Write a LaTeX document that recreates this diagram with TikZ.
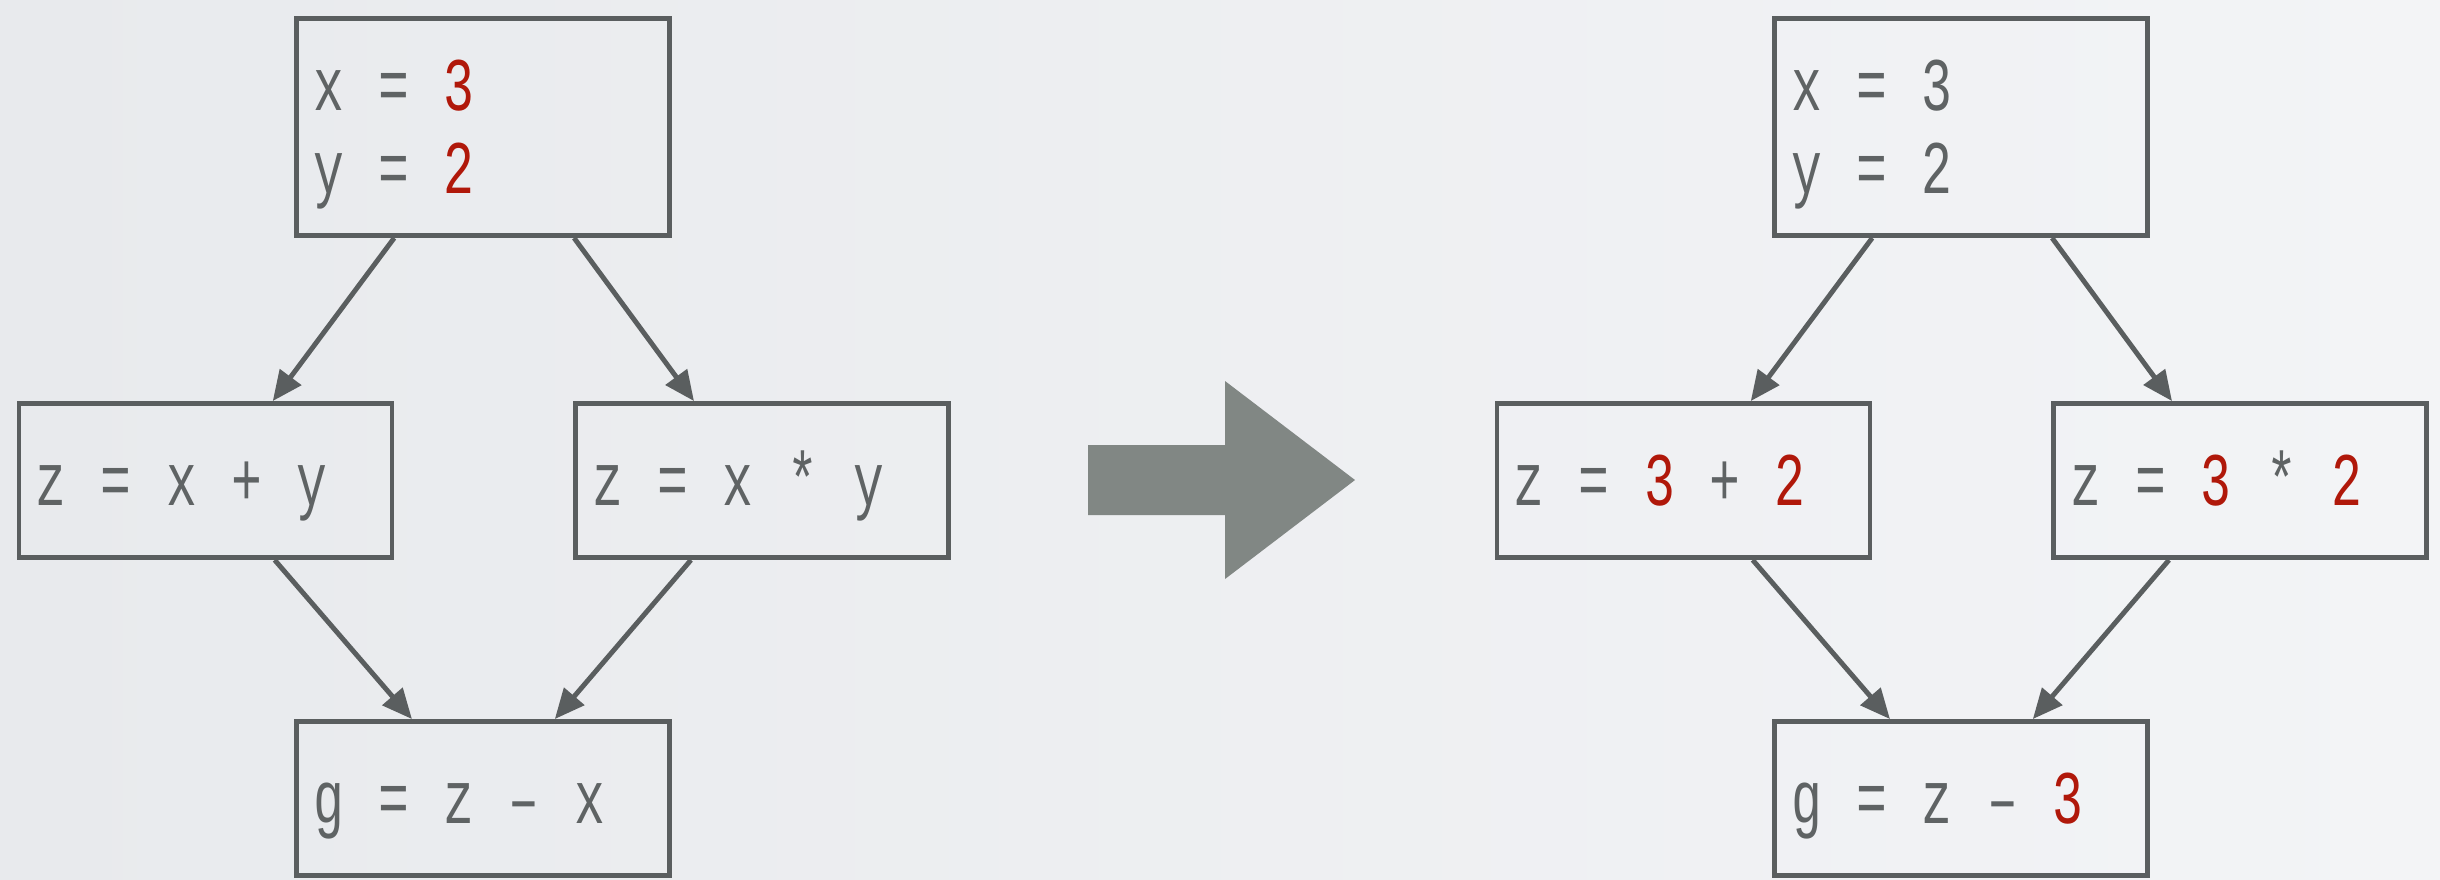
\documentclass[tikz,border=0pt]{standalone}
\usepackage{fontspec}
\setmonofont[FakeStretch=0.68]{Liberation Mono}
\usetikzlibrary{arrows.meta, positioning, calc}
\definecolor{boxgray}{RGB}{90, 94, 95}
\definecolor{txtgray}{RGB}{95, 99, 100}
\definecolor{valred}{RGB}{176, 24, 10}
\definecolor{bigarrow}{RGB}{129, 135, 132}
\definecolor{bgleft}{RGB}{232, 234, 237}
\definecolor{bgright}{RGB}{243, 244, 246}
\newcommand{\val}[1]{\textcolor{valred}{#1}}
\newcommand{\codefont}{\ttfamily\fontsize{21.5}{23.6}\selectfont\setlength{\spaceskip}{0.345cm}}

\tikzset{
  stmt/.style={draw=boxgray, line width=1.4pt, text=txtgray, font=\codefont,
    minimum width=3.73cm, text width=3.4cm, inner xsep=0.15cm, align=flush left, minimum height=1.54cm,
    text height=0.5cm, text depth=0pt},
  entry/.style={stmt, minimum height=2.17cm, text depth=0.83cm},
  flow/.style={draw=boxgray, line width=1.4pt, -{Triangle[length=0.3cm, width=0.26cm]}}
}

\begin{document}
\begin{tikzpicture}
                % Background
                \useasboundingbox (0,0) rectangle (24.4,-8.79);
                \shade[left color=bgleft, right color=bgright] (0,0) rectangle (24.4,-8.79);
                % Before
                \node[entry] (tl) at (4.83,-1.27) {x = \val{3}\\y = \val{2}};
                \node[stmt] (ml) at (2.055,-4.805) {z = x + y};
                \node[stmt] (mr) at (7.62,-4.805) {z = x * y};
                \node[stmt] (bt) at (4.83,-7.985) {g = z – x};
                \draw[flow] ($(tl.south west)!0.265!(tl.south east)$) -- ($(ml.north west)!0.678!(ml.north east)$);
                \draw[flow] ($(tl.south west)!0.741!(tl.south east)$) -- ($(mr.north west)!0.32!(mr.north east)$);
                \draw[flow] ($(ml.south west)!0.683!(ml.south east)$) -- ($(bt.north west)!0.312!(bt.north east)$);
                \draw[flow] ($(mr.south west)!0.312!(mr.south east)$) -- ($(bt.north west)!0.69!(bt.north east)$);
                % Big arrow
                \fill[bigarrow] (10.88,-4.45) -- (12.25,-4.45) -- (12.25,-3.81) -- (13.55,-4.80)
                    -- (12.25,-5.79) -- (12.25,-5.15) -- (10.88,-5.15) -- cycle;
                % After
                \node[entry] (tl2) at ($(tl)+(14.78,0)$) {x = 3\\y = 2};
                \node[stmt] (ml2) at ($(ml)+(14.78,0)$) {z = \val{3} + \val{2}};
                \node[stmt] (mr2) at ($(mr)+(14.78,0)$) {z = \val{3} * \val{2}};
                \node[stmt] (bt2) at ($(bt)+(14.78,0)$) {g = z – \val{3}};
                \draw[flow] ($(tl2.south west)!0.265!(tl2.south east)$) -- ($(ml2.north west)!0.678!(ml2.north east)$);
                \draw[flow] ($(tl2.south west)!0.741!(tl2.south east)$) -- ($(mr2.north west)!0.32!(mr2.north east)$);
                \draw[flow] ($(ml2.south west)!0.683!(ml2.south east)$) -- ($(bt2.north west)!0.312!(bt2.north east)$);
                \draw[flow] ($(mr2.south west)!0.312!(mr2.south east)$) -- ($(bt2.north west)!0.69!(bt2.north east)$);
            \end{tikzpicture}
\end{document}
